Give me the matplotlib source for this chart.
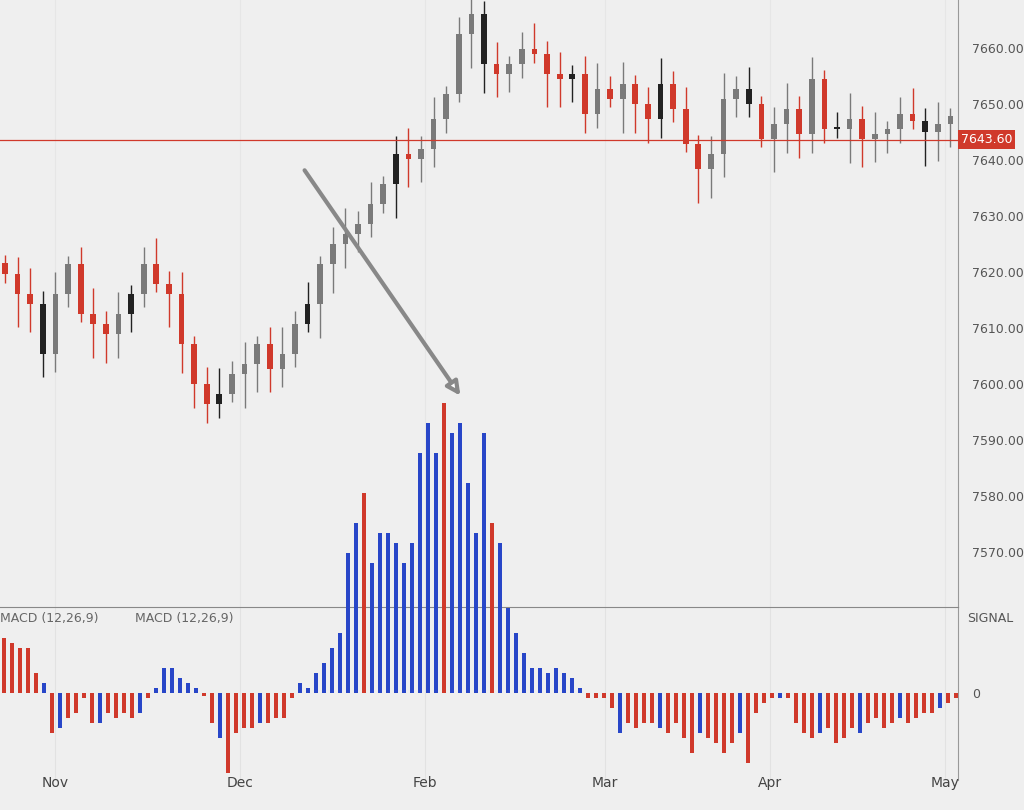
import matplotlib
matplotlib.use("Agg")
import matplotlib.pyplot as plt
import numpy as np

# close prices (approx.)
closes = [7619.6,7616.1,7614.3,7605.4,7616.1,7621.4,7612.5,7610.7,7608.9,7612.5,7616.1,7621.4,
          7617.9,7616.1,7607.1,7600.0,7596.4,7598.2,7601.8,7603.6,7607.1,7602.7,7605.4,7610.7,
          7614.3,7621.4,7625.0,7626.8,7628.6,7632.1,7635.7,7641.1,7640.2,7642.0,7647.3,7651.8,
          7662.5,7666.1,7657.1,7655.4,7657.1,7659.8,7658.9,7655.4,7654.5,7655.4,7648.2,7652.7,
          7650.9,7653.6,7650.0,7647.3,7653.6,7649.1,7642.9,7638.4,7641.1,7650.9,7652.7,7650.0,
          7643.8,7646.4,7649.1,7644.6,7654.5,7645.5,7645.5,7647.3,7643.8,7644.6,7645.5,7648.2,
          7647.0,7645.0,7646.5,7647.8]
hist = [55,50,45,45,20,10,-40,-35,-25,-20,-5,-30,-30,-20,-25,-20,-25,-20,-5,5,25,25,15,10,5,-3,
        -30,-45,-80,-40,-35,-35,-30,-30,-25,-25,-5,10,5,20,30,45,60,140,170,200,130,160,160,150,
        130,150,240,270,240,290,260,270,210,160,260,170,150,85,60,40,25,25,20,25,20,15,5,-5,-5,-5,
        -15,-40,-30,-35,-30,-30,-35,-40,-30,-45,-60,-40,-45,-50,-60,-50,-40,-70,-20,-10,-5,-5,-5,
        -30,-40,-45,-40,-35,-50,-45,-35,-40,-30,-25,-35,-30,-25,-30,-25,-20,-20,-15,-10,-5]
price_ticks = [7660,7650,7640,7630,7620,7610,7600,7590,7580,7570]
last_price = 7643.6
month_labels = ["Nov","Dec","Feb","Mar","Apr","May"]
month_pos = [55,240,425,605,770,945]

RED = "#d0392b"; BLUE = "#2846c8"; BG = "#efefef"
fig = plt.figure(figsize=(10.24,8.10), dpi=100, facecolor=BG)
W = 958/1024
ax = fig.add_axes([0, 1-607/810, W, 607/810], facecolor=BG)
axl = fig.add_axes([0, 30/810, W, 173/810], facecolor=BG)
axh = fig.add_axes([0, 30/810, W, 780/810], facecolor="none")

# candles
opens = [closes[0]+2] + closes[:-1]
for i,(o,c) in enumerate(zip(opens,closes)):
    up = c >= o
    col = "#7a7a7a" if up else RED
    if i % 7 == 3: col = "#222222"
    hi = max(o,c) + 1.5 + (i*37 % 5)*0.8
    lo = min(o,c) - 1.5 - (i*53 % 6)*0.9
    ax.vlines(i, lo, hi, color=col, lw=1)
    ax.bar(i, max(abs(c-o),0.4), bottom=min(o,c), width=0.45, color=col)
ax.set_xlim(-0.4, 75.6)
ax.set_ylim(7560.18, 7668.57)
ax.axhline(last_price, color=RED, lw=0.9)
ax.yaxis.tick_right()
ax.set_yticks(price_ticks)
ax.set_yticklabels([f"{v:.2f}" for v in price_ticks], color="#555", fontsize=9)
ax.tick_params(axis="y", length=0, pad=10)
ax.set_xticks([])
for s in ["top","left","bottom"]: ax.spines[s].set_visible(False)
ax.spines["right"].set_color("#999")
ax.text(1.003, (last_price-7560.18)/(7668.57-7560.18), f"{last_price:.2f}", transform=ax.transAxes,
        color="white", fontsize=9, va="center", ha="left",
        bbox=dict(boxstyle="square,pad=0.25", fc=RED, ec="none"), clip_on=False)
ax.annotate("", xy=(462/958*76-0.4, 7660-(398-48)/5.6), xytext=(303/958*76-0.4, 7660-(168-48)/5.6),
            arrowprops=dict(arrowstyle="-|>", color="#888", lw=3, fc="white", mutation_scale=20))

# lower panel
axl.set_ylim(-87, 86)
axl.set_xlim(0, 958)
axl.yaxis.tick_right()
axl.set_yticks([0]); axl.set_yticklabels(["0"], color="#555", fontsize=9)
axl.tick_params(axis="y", length=0, pad=10)
axl.set_xticks([])
for s in ["left","bottom"]: axl.spines[s].set_visible(False)
axl.spines["top"].set_color("#888"); axl.spines["right"].set_color("#999")
axl.text(0, 0.97, "MACD (12,26,9)", transform=axl.transAxes, fontsize=9, color="#666", va="top")
axl.text(135/958, 0.97, "MACD (12,26,9)", transform=axl.transAxes, fontsize=9, color="#666", va="top")
axl.text(1.01, 0.97, "SIGNAL", transform=axl.transAxes, fontsize=9, color="#555", va="top")
for x in month_pos:
    axl.axvline(x, color="#e2e2e2", lw=0.8, zorder=0)
    ax.axvline(x/958*76-0.4, color="#e6e6e6", lw=0.8, zorder=0)

# histogram overlay
xs = [4 + 8*i for i in range(len(hist))]
cols = []
for i,v in enumerate(hist):
    if i < 5: cols.append(RED)
    elif v >= 0: cols.append(RED if i in (45,55,61) else BLUE)
    else: cols.append(BLUE if i % 5 == 2 else RED)
axh.bar(xs, hist, width=4.5, color=cols)
axh.set_xlim(0, 958); axh.set_ylim(-87, 693)
axh.axis("off")
for x,l in zip(month_pos, month_labels):
    fig.text(x/1024, 27/810, l, ha="center", va="center", fontsize=10, color="#444")
fig.savefig("out.png", dpi=100, facecolor=BG)
